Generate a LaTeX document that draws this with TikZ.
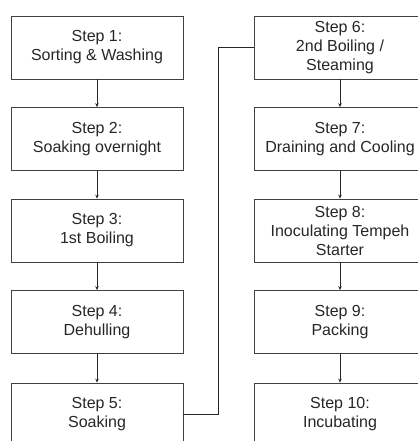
\documentclass[tikz,border=0pt]{standalone}
\usepackage{fontspec}
\setmainfont{Liberation Sans}
\usetikzlibrary{positioning,arrows.meta}

\begin{document}
\begin{tikzpicture}[x=1pt, y=1pt, semithick, >={Stealth[length=4pt,width=3.5pt]}]
\tikzset{
    stepbox/.style= {rectangle, draw=black!75, line width=0.8pt, minimum width=172pt, minimum height=63pt,
                     align=center, inner sep=0pt, text=black!85, font=\fontsize{16pt}{19pt}\selectfont},
    flow/.style= {->, black!85, line width=0.8pt},
    link/.style= {black!85, line width=0.8pt},
}
\useasboundingbox (0,0) rectangle (417,-441);

\node[stepbox] (s1) at (97,-47.5) {Step 1:\\Sorting \& Washing};
\node[stepbox] (s2) at (97,-139) {Step 2:\\Soaking overnight};
\node[stepbox] (s3) at (97,-230.5) {Step 3:\\1st Boiling};
\node[stepbox] (s4) at (97,-322) {Step 4:\\Dehulling};
\node[stepbox] (s5) at (97,-414.5) {Step 5:\\Soaking};

\node[stepbox] (s6) at (340,-47.5) {Step 6:\\2nd Boiling /\\Steaming};
\node[stepbox] (s7) at (340,-139) {Step 7:\\Draining and Cooling};
\node[stepbox] (s8) at (340,-230.5) {Step 8:\\Inoculating Tempeh\\Starter};
\node[stepbox] (s9) at (340,-322) {Step 9:\\Packing};
\node[stepbox] (s10) at (340,-414.5) {Step 10:\\Incubating};

\draw
(s1) edge[flow] (s2)
(s2) edge[flow] (s3)
(s3) edge[flow] (s4)
(s4) edge[flow] (s5)
(s6) edge[flow] (s7)
(s7) edge[flow] (s8)
(s8) edge[flow] (s9)
(s9) edge[flow] (s10);

\draw[link] (s5.east) -- ++(35,0) |- (s6.west);
\end{tikzpicture}
\end{document}
